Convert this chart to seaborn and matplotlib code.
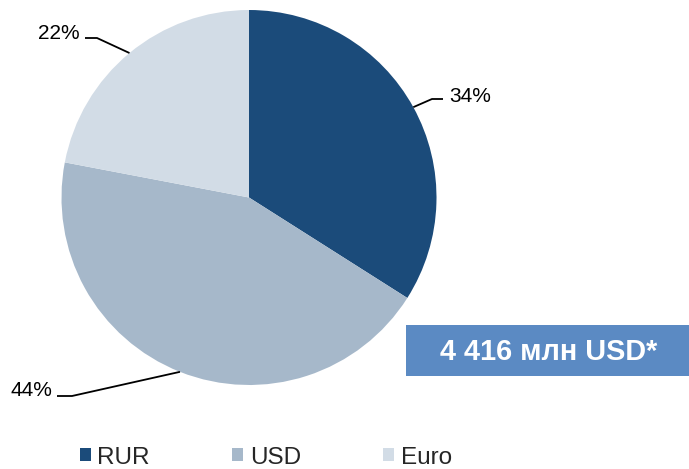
import numpy as np
import matplotlib
matplotlib.use("Agg")
import matplotlib.pyplot as plt
import seaborn as sns
from matplotlib.patches import Patch, Rectangle

# Data
currencies = ["RUR", "USD", "Euro"]
shares     = [34, 44, 22]
pct_labels = ["34%", "44%", "22%"]
total_text = "4 416 млн USD*"

COLORS = ["#1B4B7A", "#A6B8CA", "#D2DCE6"]
BOX_COLOR = "#5B8AC3"

sns.set_theme(style="white")
plt.rcParams["font.family"] = ["Liberation Sans", "DejaVu Sans"]

W, H = 689, 469
fig = plt.figure(figsize=(W / 100, H / 100), dpi=100)
ax = fig.add_axes([0, 0, 1, 1])

cx, cy, r = 249, H - 197.5, 187.5
wedges, _ = ax.pie(shares, colors=COLORS, startangle=90, counterclock=False,
                   center=(cx, cy), radius=r, frame=True,
                   wedgeprops=dict(linewidth=0))
ax.set_xlim(0, W); ax.set_ylim(0, H)
ax.set_aspect("equal")
ax.axis("off")

# Leader lines: (elbow point, end point, text anchor, ha)
leaders = {
    "RUR":  ((432, H - 99),  (443, H - 99),  (449, H - 96),  "left"),
    "USD":  ((72,  H - 396), (57,  H - 396), (52,  H - 390), "right"),
    "Euro": ((97,  H - 38),  (85,  H - 38),  (80,  H - 33),  "right"),
}
for w, cur, lab in zip(wedges, currencies, pct_labels):
    mid = np.deg2rad((w.theta1 + w.theta2) / 2)
    px, py = cx + r * np.cos(mid), cy + r * np.sin(mid)
    (ex, ey), (hx, hy), (tx, ty), ha = leaders[cur]
    ax.plot([px, ex, hx], [py, ey, hy], color="black", lw=1.3, solid_capstyle="butt")
    ax.text(tx, ty, lab, ha=ha, va="center", fontsize=15, color="black")

# Total box
ax.add_patch(Rectangle((406, H - 376), W - 406, 51, facecolor=BOX_COLOR, edgecolor="none"))
ax.text((406 + W) / 2 + 1, H - 351.5, total_text, ha="center", va="center",
        fontsize=20.8, fontweight="bold", color="white")

# Legend
handles = [Patch(facecolor=c, edgecolor="none", label=n) for c, n in zip(COLORS, currencies)]
fig.legend(handles=handles, loc="center left", bbox_to_anchor=(80 / W, 1 - 457.5 / H),
           ncol=3, frameon=False, fontsize=17.5, borderpad=0, borderaxespad=0,
           handlelength=0.45, handleheight=0.45, handletextpad=0.26, columnspacing=3.4)

fig.savefig("out.png", dpi=100)
